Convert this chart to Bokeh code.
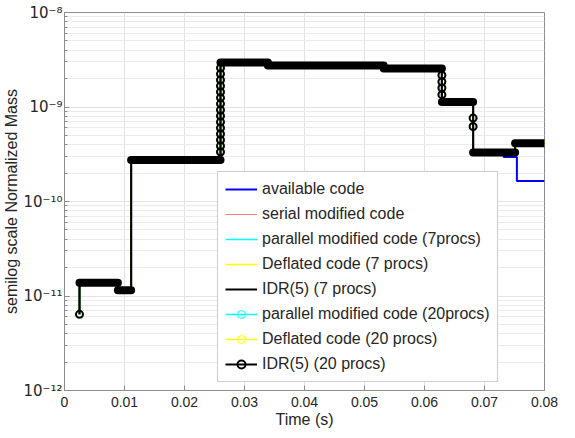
import numpy as np
from bokeh.plotting import figure
from bokeh.models import (Range1d, FixedTicker, Legend, LegendItem, CustomJSTickFormatter)
from bokeh.embed import file_html
from bokeh.resources import INLINE

# ---------------- data ----------------
# IDR / parallel / deflated codes: step breakpoints (s) and plateau levels
idr_t = [0.0025, 0.0089, 0.0111, 0.0260, 0.0339, 0.0532, 0.0629, 0.0681, 0.0751, 0.0800]
idr_v = [1.38e-11, 1.15e-11, 2.75e-10, 2.96e-9, 2.75e-9, 2.56e-9, 1.13e-9, 3.30e-10, 4.14e-10]
start_t = 0.0025
start_v = 6.4e-12

# available code (differs only at the end)
avail_t = [0.0025, 0.0089, 0.0111, 0.0260, 0.0339, 0.0532, 0.0629, 0.0681, 0.0732, 0.0754, 0.0800]
avail_v = [1.38e-11, 1.15e-11, 2.75e-10, 2.96e-9, 2.75e-9, 2.56e-9, 1.13e-9, 3.30e-10, 2.95e-10, 1.65e-10]

# marker samples on the transitions (20 procs runs)
ramp_t = [0.0025] + [0.0260] * 15 + [0.0629] * 4 + [0.0681] * 2
ramp_v = [6.4e-12,
          2.59e-9, 2.24e-9, 1.93e-9, 1.67e-9, 1.44e-9, 1.25e-9, 1.08e-9, 9.3e-10,
          8.03e-10, 6.94e-10, 6.0e-10, 5.18e-10, 4.48e-10, 3.87e-10, 3.34e-10,
          2.17e-9, 1.85e-9, 1.59e-9, 1.35e-9,
          7.63e-10, 6.22e-10]

x_ticks = [0, 0.01, 0.02, 0.03, 0.04, 0.05, 0.06, 0.07, 0.08]
y_ticks = [1e-12, 1e-11, 1e-10, 1e-9, 1e-8]
y_minor = [m * d for d in y_ticks[:-1] for m in range(2, 10)]

labels = ["available code", "serial modified code", "parallel modified code (7procs)",
          "Deflated code (7 procs)", "IDR(5) (7 procs)", "parallel modified code (20procs)",
          "Deflated code (20 procs)", "IDR(5) (20 procs)"]


def step_path(t0, v0, tb, lv):
    xs, ys = [t0], [v0]
    for i in range(len(lv)):
        xs += [tb[i], tb[i + 1]]
        ys += [lv[i], lv[i]]
    return xs, ys


FONT = "Liberation Sans"
TXT = "#262626"
AX = "#8c8c8c"

p = figure(width=575, height=438, x_range=Range1d(0, 0.08), y_range=Range1d(1e-12, 1e-8),
           y_axis_type="log", output_backend="svg", toolbar_location=None,
           min_border_left=62, min_border_right=31, min_border_top=12, min_border_bottom=48,
           background_fill_color="white", border_fill_color="white")
p.outline_line_color = AX
p.outline_line_width = 1

# axes
p.xaxis.ticker = FixedTicker(ticks=x_ticks, minor_ticks=[])
p.xaxis.formatter = CustomJSTickFormatter(code="return tick === 0 ? '0' : tick.toFixed(2);")
p.yaxis.ticker = FixedTicker(ticks=y_ticks, minor_ticks=y_minor)
p.yaxis.formatter = CustomJSTickFormatter(code="""
const sup = {'-':'\u207b','0':'\u2070','1':'\u00b9','2':'\u00b2','3':'\u00b3','4':'\u2074',
             '5':'\u2075','6':'\u2076','7':'\u2077','8':'\u2078','9':'\u2079'};
const e = Math.round(Math.log10(tick));
return '10' + String(e).split('').map(c => sup[c]).join('');
""")
for ax in (p.xaxis[0], p.yaxis[0]):
    ax.axis_line_color = AX
    ax.major_tick_line_color = AX
    ax.minor_tick_line_color = AX
    ax.major_tick_in = 5
    ax.major_tick_out = 0
    ax.minor_tick_in = 3
    ax.minor_tick_out = 0
    ax.major_label_text_font = FONT
    ax.major_label_text_color = TXT
    ax.axis_label_text_font = FONT
    ax.axis_label_text_color = TXT
    ax.axis_label_text_font_style = "normal"

p.xaxis.major_label_text_font_size = "14px"
p.xaxis.major_label_standoff = 6
p.xaxis.axis_label = "Time (s)"
p.xaxis.axis_label_text_font_size = "16px"
p.xaxis.axis_label_standoff = 1

p.yaxis.major_label_text_font = "DejaVu Sans"
p.yaxis.major_label_text_font_size = "15px"
p.yaxis.major_label_standoff = 2
p.yaxis.axis_label = "semilog scale Normalized Mass"
p.yaxis.axis_label_text_font_size = "16px"
p.yaxis.axis_label_standoff = 0

# grids
p.xgrid.ticker = FixedTicker(ticks=x_ticks)
p.ygrid.ticker = FixedTicker(ticks=y_ticks, minor_ticks=y_minor)
p.xgrid.grid_line_color = "#e3e3e3"
p.ygrid.grid_line_color = "#e3e3e3"
p.ygrid.minor_grid_line_color = "#ebebeb"

# ---------------- series ----------------
ax_x, ax_y = step_path(start_t, start_v, avail_t, avail_v)
ix, iy = step_path(start_t, start_v, idr_t, idr_v)

r_avail = p.line(ax_x, ax_y, line_color="#0000ff", line_width=2)
r_serial = p.line(ix, iy, line_color="#f08080", line_width=1)
r_par7 = p.line(ix, iy, line_color="#00ffff", line_width=1.5)
r_def7 = p.line(ix, iy, line_color="#ffff00", line_width=1.5)
r_idr7 = p.line(ix, iy, line_color="black", line_width=2)

items = [LegendItem(label=labels[0], renderers=[r_avail]),
         LegendItem(label=labels[1], renderers=[r_serial]),
         LegendItem(label=labels[2], renderers=[r_par7]),
         LegendItem(label=labels[3], renderers=[r_def7]),
         LegendItem(label=labels[4], renderers=[r_idr7])]

for lab, col, lw, bw, ms in ((labels[5], "#00ffff", 1.0, 6, 6), (labels[6], "#ffff00", 1.0, 6, 6),
                             (labels[7], "black", 2.0, 8, 7)):
    rl = p.line(ix, iy, line_color=col, line_width=1.5 if col != "black" else 2)
    # dense markers on plateaus appear as a thick band
    p.segment(x0=idr_t[:-1], y0=idr_v, x1=idr_t[1:], y1=idr_v, line_color=col,
              line_width=bw, line_cap="round")
    rs = p.scatter(ramp_t, ramp_v, marker="circle", size=ms, line_color=col,
                   line_width=lw, fill_color=None)
    items.append(LegendItem(label=lab, renderers=[rl, rs]))

legend = Legend(items=items, location=(153, 8))
legend.label_text_font = FONT
legend.label_text_font_size = "16px"
legend.label_text_color = TXT
legend.glyph_width = 32
legend.glyph_height = 20
legend.label_height = 20
legend.label_standoff = 5
legend.spacing = 5
legend.padding = 7
legend.margin = 0
legend.border_line_color = "#9a9a9a"
legend.border_line_width = 1
legend.background_fill_color = "white"
legend.background_fill_alpha = 1.0
p.add_layout(legend)

open("out.html", "w").write(file_html(p, INLINE))
